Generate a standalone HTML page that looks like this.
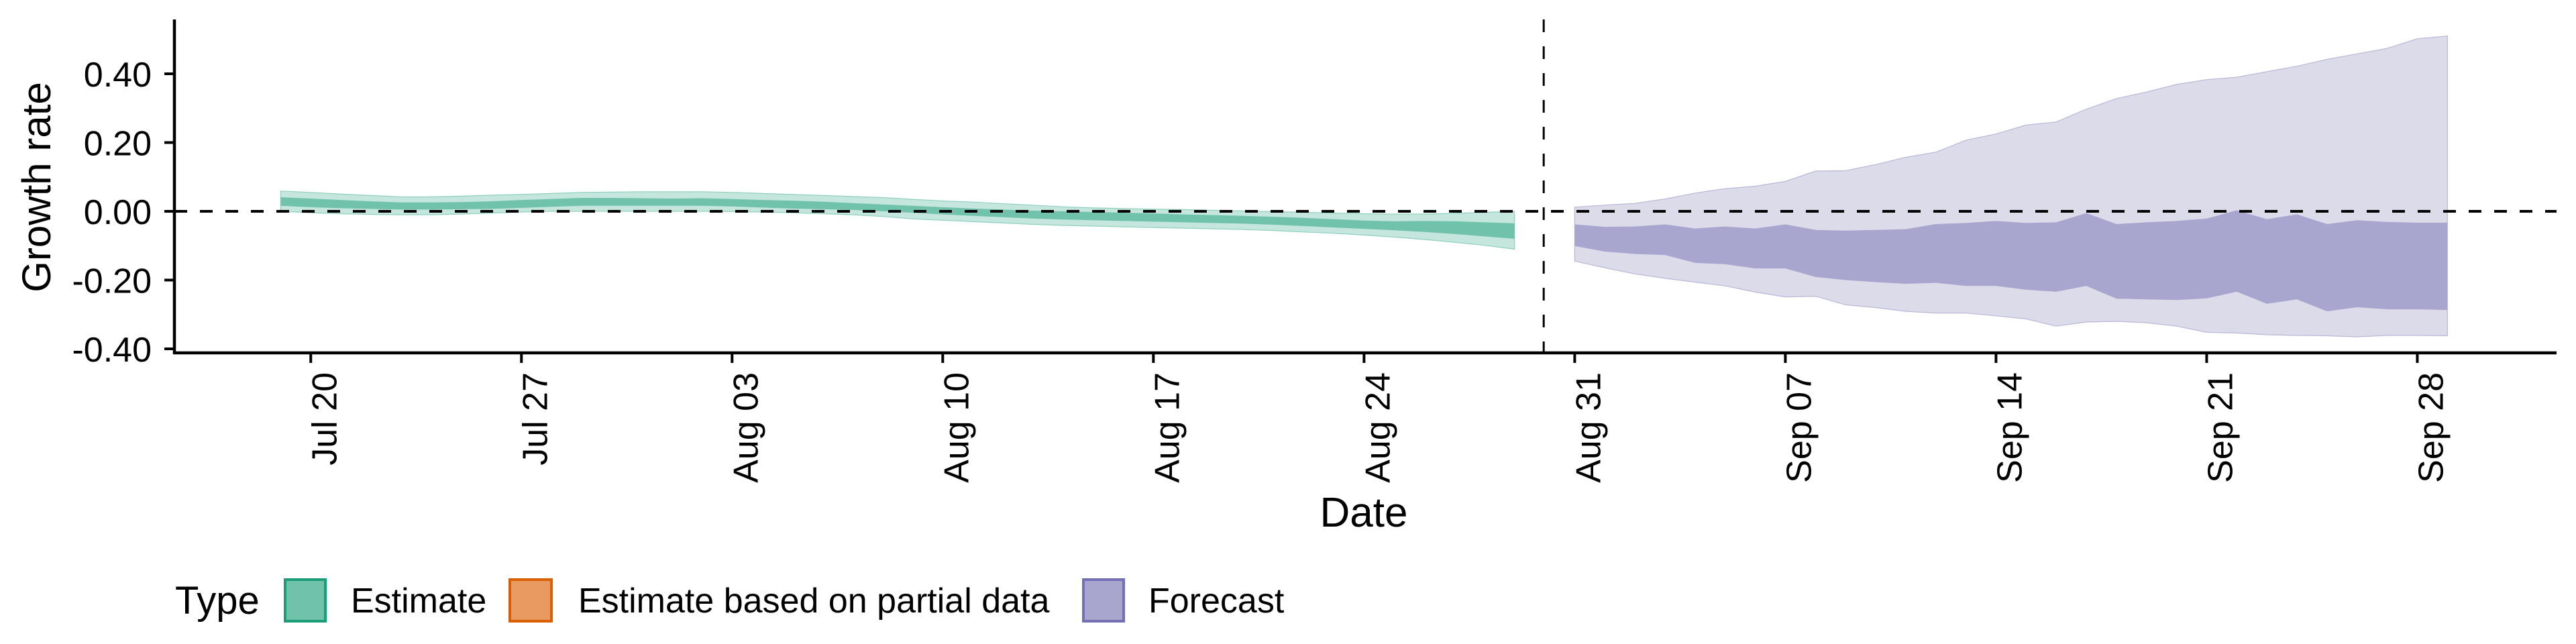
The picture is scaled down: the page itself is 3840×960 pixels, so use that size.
<!DOCTYPE html>
<html><head><meta charset="utf-8"><style>
html,body{margin:0;padding:0;background:#fff;}
svg{display:block;font-family:"Liberation Sans",Arial,sans-serif;}
</style></head><body>
<svg id="chart" width="3840" height="960" viewBox="0 0 3840 960" xmlns="http://www.w3.org/2000/svg">
<g id="bands"></g>
<line x1="260" y1="315" x2="3811" y2="315" stroke="#000" stroke-width="4" stroke-dasharray="19 19"/>
<line id="vline" x1="2301" y1="29" x2="2301" y2="526" stroke="#000" stroke-width="3" stroke-dasharray="19 21"/>
<line x1="260" y1="29" x2="260" y2="528" stroke="#000" stroke-width="4.5"/>
<line x1="258" y1="526" x2="3811" y2="526" stroke="#000" stroke-width="4.5"/>
<g id="yticks"></g>
<g id="xticks"></g>
<text transform="translate(75,279) rotate(-90)" text-anchor="middle" font-size="60">Growth rate</text>
<text x="2033" y="785" text-anchor="middle" font-size="62">Date</text>
<g>
<text x="261" y="915" font-size="58">Type</text>
<g>
<rect x="425" y="864" width="60" height="62" fill="#70c2aa" stroke="#1b9e77" stroke-width="4"/>
<text x="523" y="913" font-size="52">Estimate</text></g>
<g>
<rect x="760" y="864" width="62" height="62" fill="#e89a60" stroke="#d95f02" stroke-width="4"/>
<text x="862" y="913" font-size="52">Estimate based on partial data</text></g>
<g>
<rect x="1615" y="864" width="60" height="62" fill="#a8a5cf" stroke="#7570b3" stroke-width="4"/>
<text x="1712" y="913" font-size="52">Forecast</text></g>
</g>
</svg>
<script>
const yTicks = [0.4, 0.2, 0, -0.2, -0.4];
const yTickLabels = ["0.40", "0.20", "0.00", "-0.20", "-0.40"];
const xTickDays = [1, 8, 15, 22, 29, 36, 43, 50, 57, 64, 71];
const xTickLabels = ["Jul 20","Jul 27","Aug 03","Aug 10","Aug 17","Aug 24","Aug 31","Sep 07","Sep 14","Sep 21","Sep 28"];
const forecastStartDay = 42;
const estStart = 0;
const estU90 = [0.059,0.055,0.050,0.046,0.042,0.042,0.044,0.047,0.049,0.052,0.055,0.056,0.057,0.057,0.057,0.055,0.052,0.049,0.046,0.043,0.040,0.035,0.030,0.027,0.022,0.018,0.013,0.010,0.008,0.006,0.005,0.003,0.001,-0.001,-0.003,-0.005,-0.007,-0.008,-0.008,-0.006,-0.003,0.000];
const estU50 = [0.041,0.037,0.033,0.029,0.026,0.026,0.027,0.029,0.033,0.036,0.039,0.039,0.038,0.037,0.038,0.036,0.033,0.031,0.028,0.024,0.020,0.016,0.012,0.008,0.005,0.002,0.000,-0.002,-0.004,-0.006,-0.009,-0.011,-0.013,-0.016,-0.019,-0.023,-0.027,-0.029,-0.028,-0.029,-0.032,-0.035];
const estL50 = [0.016,0.012,0.009,0.007,0.005,0.005,0.006,0.007,0.010,0.013,0.016,0.016,0.016,0.016,0.016,0.014,0.011,0.008,0.006,0.004,0.000,-0.004,-0.009,-0.013,-0.017,-0.021,-0.024,-0.026,-0.028,-0.030,-0.032,-0.034,-0.036,-0.039,-0.043,-0.047,-0.051,-0.055,-0.060,-0.066,-0.073,-0.080];
const estL90 = [0.000,-0.004,-0.007,-0.009,-0.010,-0.010,-0.008,-0.005,-0.002,0.000,0.000,0.000,0.000,0.000,0.000,-0.001,-0.002,-0.004,-0.007,-0.010,-0.015,-0.022,-0.026,-0.030,-0.034,-0.038,-0.041,-0.043,-0.045,-0.047,-0.049,-0.051,-0.053,-0.056,-0.060,-0.064,-0.069,-0.075,-0.082,-0.090,-0.099,-0.110];
const fcStart = 43;
const fcU90 = [0.012,0.018,0.023,0.036,0.053,0.066,0.073,0.087,0.117,0.118,0.136,0.157,0.172,0.207,0.225,0.251,0.260,0.297,0.328,0.347,0.369,0.383,0.390,0.406,0.422,0.442,0.458,0.474,0.502,0.510];
const fcU50 = [-0.038,-0.045,-0.044,-0.038,-0.050,-0.044,-0.050,-0.038,-0.054,-0.056,-0.054,-0.052,-0.037,-0.034,-0.028,-0.034,-0.032,-0.005,-0.037,-0.032,-0.028,-0.021,0.003,-0.023,-0.009,-0.037,-0.026,-0.031,-0.033,-0.033];
const fcL50 = [-0.101,-0.117,-0.124,-0.127,-0.150,-0.154,-0.166,-0.166,-0.191,-0.200,-0.206,-0.211,-0.208,-0.217,-0.217,-0.228,-0.234,-0.217,-0.254,-0.256,-0.258,-0.253,-0.234,-0.269,-0.256,-0.291,-0.279,-0.285,-0.285,-0.287];
const fcL90 = [-0.145,-0.164,-0.182,-0.195,-0.206,-0.217,-0.235,-0.249,-0.247,-0.272,-0.280,-0.291,-0.296,-0.296,-0.304,-0.313,-0.334,-0.322,-0.320,-0.324,-0.334,-0.352,-0.354,-0.359,-0.361,-0.362,-0.365,-0.361,-0.361,-0.362];

const NS = "http://www.w3.org/2000/svg";
const X0 = 418.4, DAY = 44.86, Y0 = 315, YS = 512.5;
function xs(d){ return X0 + d * DAY; }
function ys(v){ return Y0 - v * YS; }
function band(start, lo, hi){
  let p = [];
  for (let i = 0; i < hi.length; i++) p.push(xs(start + i).toFixed(1) + "," + ys(hi[i]).toFixed(1));
  for (let i = lo.length - 1; i >= 0; i--) p.push(xs(start + i).toFixed(1) + "," + ys(lo[i]).toFixed(1));
  return "M" + p.join("L") + "Z";
}
const bands = document.getElementById("bands");
function addBand(start, lo, hi, fill, stroke, name){
  const path = document.createElementNS(NS, "path");
  path.setAttribute("d", band(start, lo, hi));
  path.setAttribute("fill", fill);
  path.setAttribute("stroke", stroke);
  path.setAttribute("stroke-width", "1.2");
  
  
  bands.appendChild(path);
}
addBand(estStart, estL90, estU90, "#c4e6dc", "#8fd0bc", "estimate-90-band");
addBand(estStart, estL50, estU50, "#70c2aa", "none", "estimate-50-band");
addBand(fcStart, fcL90, fcU90, "#dcdbea", "#b9b6d9", "forecast-90-band");
addBand(fcStart, fcL50, fcU50, "#a8a5cf", "none", "forecast-50-band");

const vl = document.getElementById("vline");
vl.setAttribute("x1", xs(forecastStartDay - 0.03)); vl.setAttribute("x2", xs(forecastStartDay - 0.03));

const yg = document.getElementById("yticks");
yTicks.forEach((v, i) => {
  const l = document.createElementNS(NS, "line");
  l.setAttribute("x1", 245); l.setAttribute("x2", 260);
  l.setAttribute("y1", ys(v)); l.setAttribute("y2", ys(v));
  l.setAttribute("stroke", "#000"); l.setAttribute("stroke-width", "4");
  
  
  yg.appendChild(l);
  const t = document.createElementNS(NS, "text");
  t.setAttribute("x", 226); t.setAttribute("y", ys(v) + 19);
  t.setAttribute("text-anchor", "end"); t.setAttribute("font-size", "52");
  t.textContent = yTickLabels[i];
  
  
  yg.appendChild(t);
});
const xg = document.getElementById("xticks");
xTickDays.forEach((d, i) => {
  const x = xs(d);
  const l = document.createElementNS(NS, "line");
  l.setAttribute("x1", x); l.setAttribute("x2", x);
  l.setAttribute("y1", 526); l.setAttribute("y2", 541);
  l.setAttribute("stroke", "#000"); l.setAttribute("stroke-width", "4");
  
  
  xg.appendChild(l);
  const t = document.createElementNS(NS, "text");
  t.setAttribute("transform", "translate(" + (x + 38) + ",555) rotate(-90)");
  t.setAttribute("text-anchor", "end"); t.setAttribute("font-size", "52");
  t.textContent = xTickLabels[i];
  
  
  xg.appendChild(t);
});
</script>
</body></html>
